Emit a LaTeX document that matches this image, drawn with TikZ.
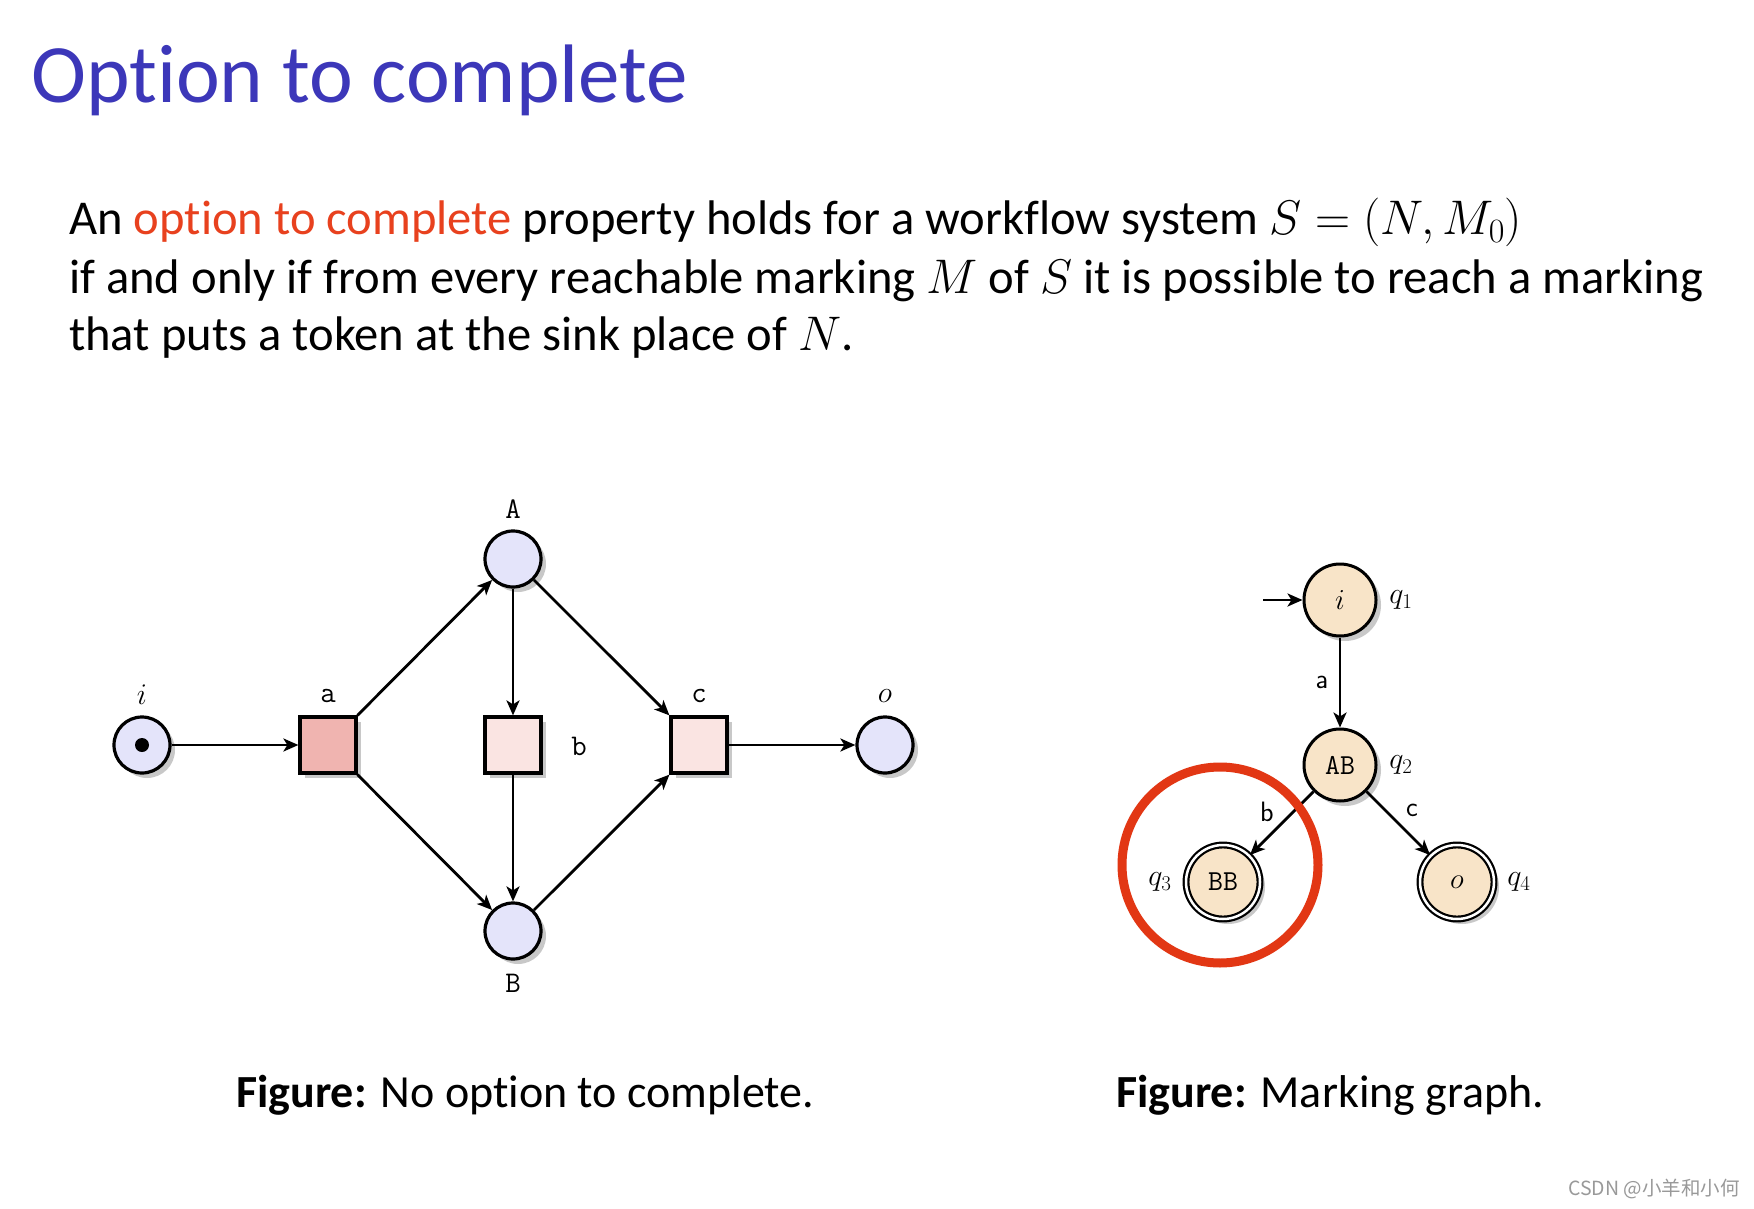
\RequirePackage{fix-cm}
\documentclass[tikz,border=0pt]{standalone}
\usepackage{fontspec}
\setmainfont{Carlito}[Ligatures=NoCommon]
\newfontfamily\cjkfont{Noto Sans CJK SC}
\usetikzlibrary{arrows.meta,shadows}
\definecolor{titleblue}{RGB}{60,55,185}
\definecolor{optred}{RGB}{232,65,30}
\definecolor{placefill}{RGB}{228,228,250}
\definecolor{transdark}{RGB}{240,180,176}
\definecolor{translight}{RGB}{250,228,226}
\definecolor{statefill}{RGB}{248,228,200}
\definecolor{ringred}{RGB}{226,55,20}
\begin{document}
\begin{tikzpicture}[x=1pt,y=-1pt,
  shade/.style={drop shadow={shadow xshift=5pt,shadow yshift=-5pt,fill=black!30,opacity=0.7}},
  place/.style={circle,draw,line width=3.2pt,fill=placefill,minimum size=56pt,inner sep=0pt,shade},
  trans/.style={rectangle,draw,line width=3.2pt,minimum size=56pt,inner sep=0pt,shade},
  arc/.style={line width=2.8pt,-{Stealth[length=15pt,width=13pt,inset=4pt]}},
  lbl/.style={inner sep=0pt,font=\fontsize{30}{34}\selectfont\ttfamily},
  state/.style={circle,draw,line width=3pt,fill=statefill,minimum size=72pt,inner sep=0pt,shade,font=\fontsize{29}{32}\selectfont\ttfamily},
  accept/.style={state,double,double distance=2.5pt,line width=2.2pt,minimum size=74pt},
  qlbl/.style={inner sep=0pt,font=\fontsize{30}{32}\selectfont},
  elbl/.style={inner sep=0pt,font=\fontsize{28}{30}\selectfont\sffamily},
  body/.style={anchor=base west,inner sep=0pt,font=\fontsize{48.6}{58}\selectfont},
  caption/.style={anchor=base west,inner sep=0pt,font=\fontsize{46}{50}\selectfont}]
\useasboundingbox[fill=white] (0,0) rectangle (1754,1209);

% title and text
\node[anchor=base west,inner sep=0pt,text=titleblue,font=\fontsize{83}{95}\selectfont] (title) at (31,103) {Option to complete};
\node[body] (l1) at (69,235) {An \textcolor{optred}{option to complete} property holds for a workflow system $S=(N,M_0)$};
\node[body] (l2) at (69,293) {if and only if from every reachable marking $M$ of $S$ it is possible to reach a marking};
\node[body] (l3) at (69,350) {that puts a token at the sink place of $N$.};

% Petri net
\node[place] (i) at (142,745) {};
\node[circle,fill=black,minimum size=14pt,inner sep=0pt] (tok) at (i) {};
\node[trans,fill=transdark] (a) at (328,745) {};
\node[place] (A) at (513,559) {};
\node[trans,fill=translight] (b) at (513,745) {};
\node[place] (B) at (513,931) {};
\node[trans,fill=translight] (c) at (699,745) {};
\node[place] (o) at (885,745) {};

\node[lbl] (li) at (142,695) {$i$};
\node[lbl] (la) at (328,696) {a};
\node[lbl] (lA) at (513,509) {A};
\node[lbl] (lb) at (579,746) {b};
\node[lbl] (lB) at (513,983) {B};
\node[lbl] (lc) at (699,696) {c};
\node[lbl] (lo) at (885,696) {$o$};

\draw[arc] (i) -- (a);
\draw[arc] (a) -- (A);
\draw[arc] (a) -- (B);
\draw[arc] (A) -- (b);
\draw[arc] (b) -- (B);
\draw[arc] (A) -- (c);
\draw[arc] (B) -- (c);
\draw[arc] (c) -- (o);

% marking graph
\node[state] (q1) at (1340,600) {$i$};
\node[state] (q2) at (1340,765) {AB};
\node[accept] (q3) at (1223,882) {BB};
\node[accept] (q4) at (1457,882) {$o$};
\node[qlbl] (n1) at (1401,600) {$q_1$};
\node[qlbl] (n2) at (1401,765) {$q_2$};
\node[qlbl] (n3) at (1160,882) {$q_3$};
\node[qlbl] (n4) at (1519,882) {$q_4$};
\coordinate (start) at (1263,600);
\draw[arc] (start) -- (q1);
\draw[arc] (q1) -- (q2);
\draw[arc] (q2) -- (q3);
\draw[arc] (q2) -- (q4);
\node[elbl] (ea) at (1322,682) {a};
\node[elbl] (eb) at (1267,812) {b};
\node[elbl] (ec) at (1412,810) {c};
\node[circle,draw=ringred,line width=9pt,minimum size=196pt,inner sep=0pt] (ring) at (1220,865) {};

% captions
\node[caption] (cap1) at (236,1107) {\textbf{Figure:} No option to complete.};
\node[caption] (cap2) at (1116,1107) {\textbf{Figure:} Marking graph.};
\node[anchor=east,inner sep=0pt,text=black!40,font=\fontsize{19.5}{22}\selectfont\cjkfont] (wm) at (1740,1189) {CSDN @小羊和小何};
\end{tikzpicture}
\end{document}
